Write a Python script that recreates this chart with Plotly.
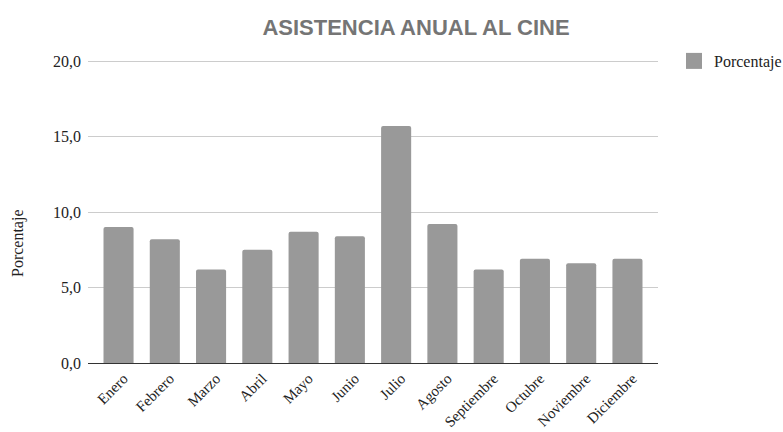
import plotly.graph_objects as go

meses = ["Enero", "Febrero", "Marzo", "Abril", "Mayo", "Junio", "Julio",
         "Agosto", "Septiembre", "Octubre", "Noviembre", "Diciembre"]
porcentaje = [9.0, 8.2, 6.2, 7.5, 8.7, 8.4, 15.7, 9.2, 6.2, 6.9, 6.6, 6.9]
y_ticks = [0, 5, 10, 15, 20]

serif = "Liberation Serif, Times New Roman, serif"
bar_color = "#999999"
text_color = "#222222"

W, H = 783, 432
ML, MR, MT, MB = 88, 125, 58, 69
plot_w = W - ML - MR
plot_h = H - MT - MB
y_top = 20 + 3 * 20 / (plot_h - 3)  # a little headroom so the 20,0 gridline shows

fig = go.Figure()
fig.add_trace(go.Bar(
    x=list(range(len(meses))),
    y=porcentaje,
    name="Porcentaje",
    marker=dict(color=bar_color, line=dict(width=0)),
    showlegend=False,
))
# legend entry with a larger square swatch
fig.add_trace(go.Scatter(
    x=[None], y=[None],
    mode="markers",
    name="Porcentaje",
    marker=dict(symbol="square", size=16, color=bar_color),
    showlegend=True,
    hoverinfo="skip",
))

fig.update_layout(
    width=W,
    height=H,
    margin=dict(l=ML, r=MR, t=MT, b=MB, autoexpand=False),
    paper_bgcolor="white",
    plot_bgcolor="white",
    separators=",.",
    bargap=0.35,
    barcornerradius=2,
    font=dict(family=serif, size=16, color=text_color),
    title=dict(
        text="<b>ASISTENCIA ANUAL AL CINE</b>",
        font=dict(family="Liberation Sans, Arial, sans-serif", size=22, color="#757575"),
        x=(416 - ML) / plot_w, xref="paper", xanchor="center",
        y=1 - 27 / H, yref="container", yanchor="middle",
    ),
    legend=dict(
        x=(674 - ML) / plot_w, xref="paper", xanchor="left",
        y=1 - 3 / plot_h, yref="paper", yanchor="middle",
        font=dict(family=serif, size=16, color=text_color),
        itemwidth=30,
        bgcolor="rgba(0,0,0,0)",
    ),
    xaxis=dict(
        range=[-0.66, 11.66],
        tickmode="array",
        tickvals=list(range(len(meses))),
        ticktext=meses,
        tickangle=-45,
        ticklabelshift=5,
        ticklabelstandoff=0,
        showgrid=False,
        showline=True,
        linecolor="#333333",
        linewidth=1,
        ticks="",
        automargin=False,
        tickfont=dict(family=serif, size=15, color=text_color),
        fixedrange=True,
    ),
    yaxis=dict(
        range=[0, y_top],
        tickmode="array",
        tickvals=y_ticks,
        tickformat=".1f",
        ticklabelstandoff=6,
        showgrid=True,
        gridcolor="#cccccc",
        gridwidth=1,
        zeroline=False,
        showline=False,
        ticks="",
        automargin=False,
        tickfont=dict(family=serif, size=16, color=text_color),
        fixedrange=True,
    ),
    annotations=[dict(
        text="Porcentaje",
        textangle=-90,
        x=(18 - ML) / plot_w, xref="paper", xanchor="center",
        y=(H - MB - 243) / plot_h, yref="paper", yanchor="middle",
        showarrow=False,
        font=dict(family=serif, size=16, color=text_color),
    )],
)

fig.write_html("out.html")
